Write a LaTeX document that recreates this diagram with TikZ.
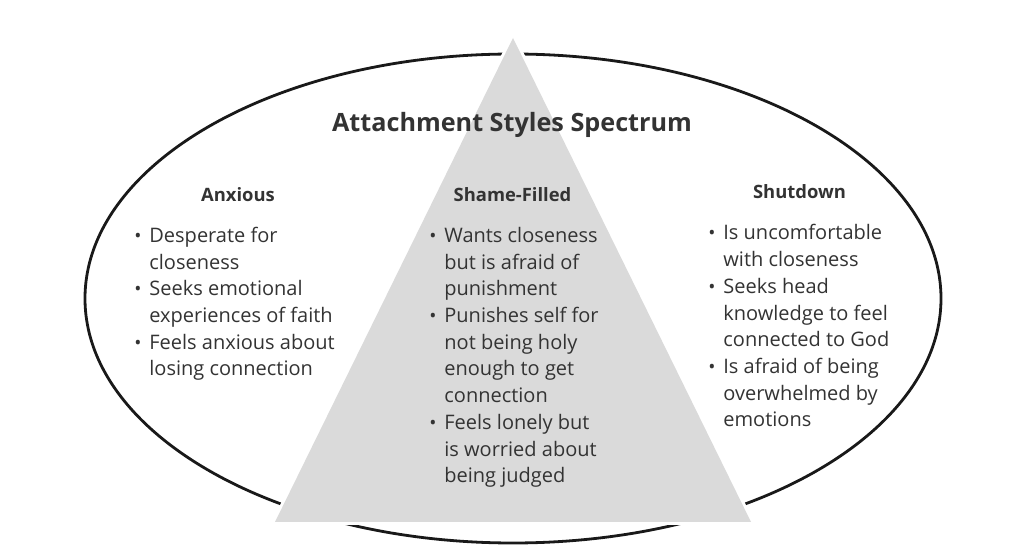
\documentclass[tikz,border=0pt]{standalone}
\usepackage{fontspec}
\setmainfont{Open Sans}
\usepackage{xcolor}
\usepackage{tikz}
\usetikzlibrary{positioning}

\definecolor{ink}{HTML}{333333}
\definecolor{trigrey}{HTML}{DADADA}
\newcommand{\itm}{\makebox[7pt][l]{\hspace{-0.5pt}\scalebox{0.95}{\textbullet}}}

\begin{document}
\begin{tikzpicture}[
        x=0.5pt, y=-0.5pt,
        every node/.style={text=ink, inner sep=0pt},
        title/.style={font=\fontsize{12.6}{16}\selectfont\bfseries, anchor=base},
        head/.style={font=\fontsize{9.2}{12}\selectfont\bfseries, anchor=base},
        list/.style={font=\fontsize{10}{13.35}\selectfont, anchor=base west}
]
\useasboundingbox (0,0) rectangle (1024,550);

%--- outer ellipse -------------------------------------------
\coordinate (M) at (513,298.5);      % centre
\draw[line width=1.4pt, black!90] (M) ellipse [x radius=428, y radius=244.5];

%--- triangle (white rim, then grey) -------------------------
\coordinate (T) at (513,38);         % apex
\coordinate (L) at (275,522);        % base left
\coordinate (R) at (751,522);        % base right
\draw[white, line width=3pt, line join=round] (T)--(L)--(R)--cycle;
\fill[trigrey] (T)--(L)--(R)--cycle;

%--- title ---------------------------------------------------
\node[title] (spectrum) at (512,132) {Attachment Styles Spectrum};

%--- column headings -----------------------------------------
\node[head] (anxious)  at (238,201.5) {Anxious};
\node[head] (shame)    at (512.5,201.5) {Shame-Filled};
\node[head] (shutdown) at (799.5,199) {Shutdown};

%--- bullet lists --------------------------------------------
\node[list] (anxlist) at (135,242.5) {\begin{tabular}[t]{@{}l@{}l@{}}
  \itm & Desperate for\\
       & closeness\\
  \itm & Seeks emotional\\
       & experiences of faith\\
  \itm & Feels anxious about\\
       & losing connection
\end{tabular}};

\node[list] (shamelist) at (430,242.5) {\begin{tabular}[t]{@{}l@{}l@{}}
  \itm & Wants closeness\\
       & but is afraid of\\
       & punishment\\
  \itm & Punishes self for\\
       & not being holy\\
       & enough to get\\
       & connection\\
  \itm & Feels lonely but\\
       & is worried about\\
       & being judged
\end{tabular}};

\node[list] (shutlist) at (709,240) {\begin{tabular}[t]{@{}l@{}l@{}}
  \itm & Is uncomfortable\\
       & with closeness\\
  \itm & Seeks head\\
       & knowledge to feel\\
       & connected to God\\
  \itm & Is afraid of being\\
       & overwhelmed by\\
       & emotions
\end{tabular}};

\end{tikzpicture}
\end{document}
